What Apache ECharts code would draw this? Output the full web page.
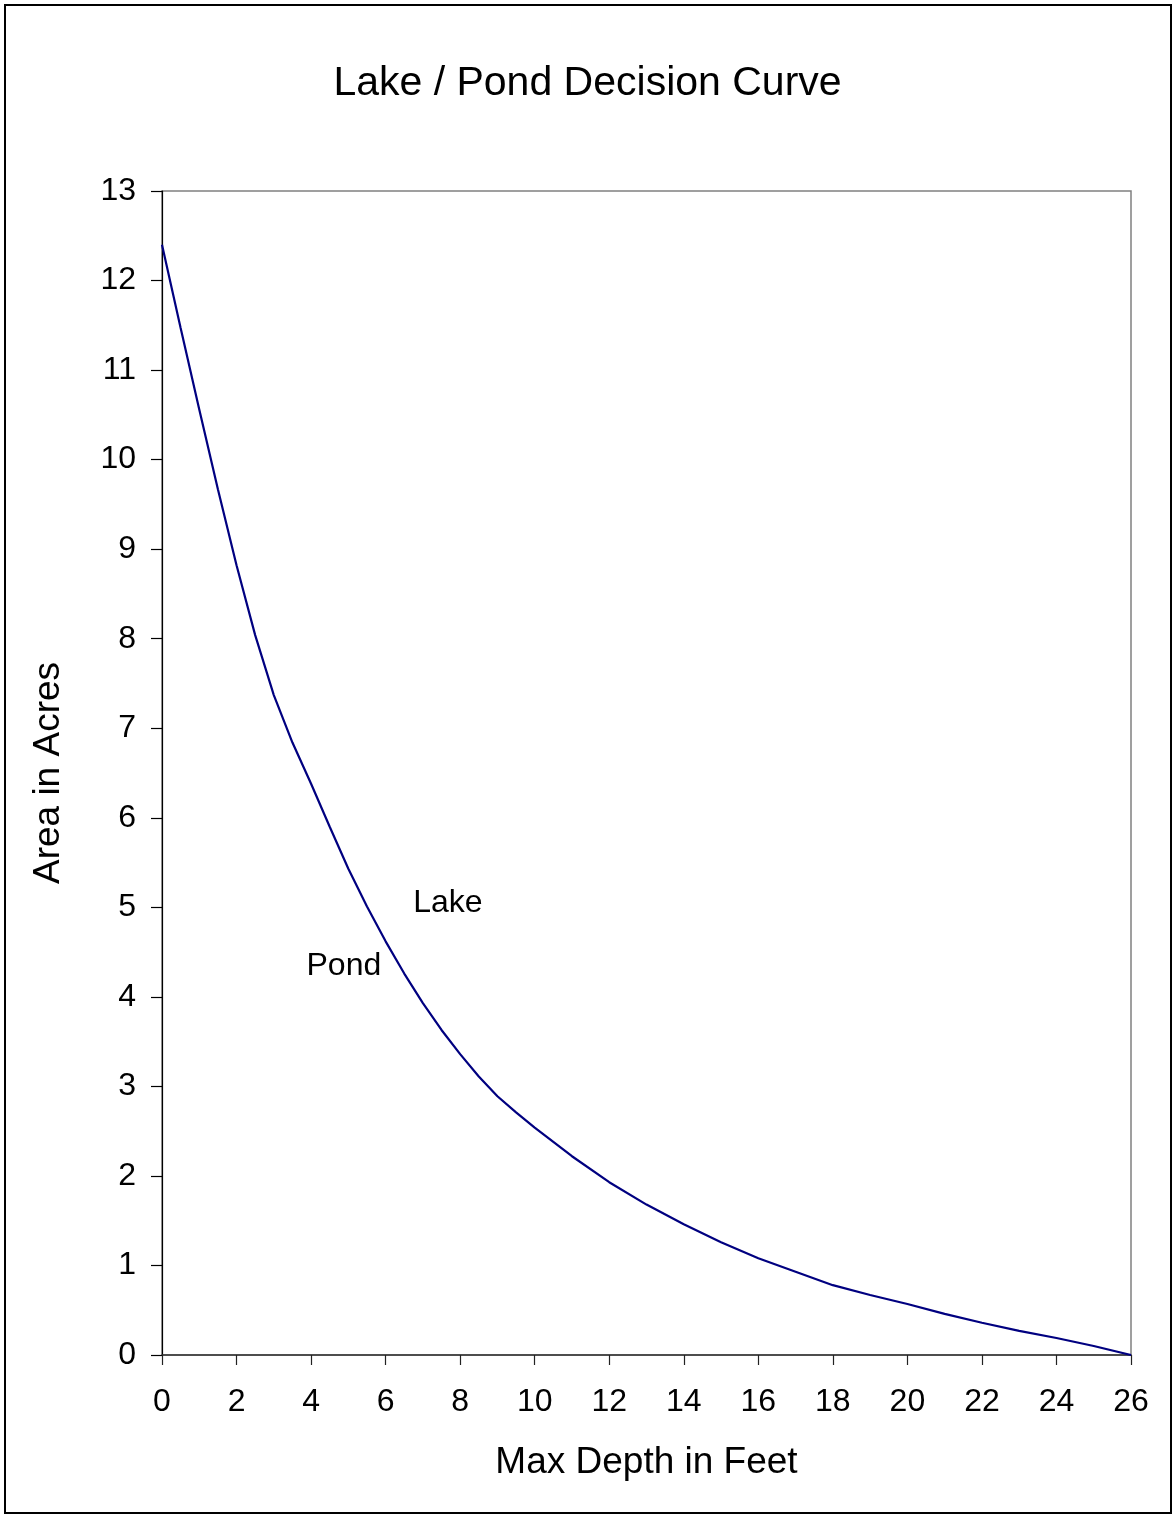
<!DOCTYPE html>
<html>
<head>
<meta charset="utf-8">
<script src="https://cdn.jsdelivr.net/npm/echarts@6/dist/echarts.min.js"></script>
<style>
html,body{margin:0;padding:0;background:#fff;}
#chart{width:1175px;height:1517px;}
</style>
</head>
<body>
<div id="chart"></div>
<script>
const depthFeet = [0,0.5,1,1.5,2,2.5,3,3.5,4,4.5,5,5.5,6,6.5,7,7.5,8,8.5,9,9.5,10,11,12,13,14,15,16,17,18,19,20,21,22,23,24,25,26];
const areaAcres = [12.4,11.47,10.56,9.67,8.82,8.04,7.37,6.84,6.38,5.9,5.43,5.01,4.62,4.26,3.93,3.63,3.36,3.11,2.89,2.71,2.54,2.22,1.93,1.68,1.46,1.26,1.08,0.93,0.78,0.67,0.57,0.46,0.36,0.27,0.19,0.10,0];
const regionLabels = ['Lake','Pond'];
const regionLabelX = [7.67, 4.88];
const regionLabelY = [5.05, 4.34];

const FONT = '"Liberation Sans", Arial, sans-serif';
const chart = echarts.init(document.getElementById('chart'), null, {renderer:'canvas'});
chart.setOption({
  animation:false,
  backgroundColor:'#fff',
  title:{
    text:'Lake / Pond Decision Curve',
    left:'center', top:58,
    textStyle:{fontFamily:FONT,fontSize:41,fontWeight:'normal',color:'#000'}
  },
  graphic:[{
    type:'rect', silent:true,
    shape:{x:5,y:5,width:1166,height:1508},
    style:{fill:'none',stroke:'#000',lineWidth:2}
  }],
  grid:{left:162,top:191,right:44,bottom:162,show:true,borderColor:'#808080',borderWidth:1.5,backgroundColor:'#fff'},
  xAxis:{
    type:'value', min:0, max:26, interval:2,
    name:'Max Depth in Feet', nameLocation:'middle', nameGap:89,
    nameTextStyle:{fontFamily:FONT,fontSize:37,color:'#000'},
    axisLine:{show:true,lineStyle:{color:'#333',width:1.5}},
    axisTick:{show:true,length:10,lineStyle:{color:'#222',width:1.2}},
    axisLabel:{margin:31,fontFamily:FONT,fontSize:32,color:'#000'},
    splitLine:{show:false}
  },
  yAxis:{
    type:'value', min:0, max:13, interval:1,
    name:'Area in Acres', nameLocation:'middle', nameGap:95, nameRotate:90,
    nameTextStyle:{fontFamily:FONT,fontSize:37,color:'#000'},
    axisLine:{show:true,lineStyle:{color:'#000',width:1.2}},
    axisTick:{show:true,length:11,lineStyle:{color:'#000',width:1.2}},
    axisLabel:{margin:26,fontFamily:FONT,fontSize:32,color:'#000'},
    splitLine:{show:false}
  },
  series:[{
    type:'line',
    data:depthFeet.map((d,i)=>[d,areaAcres[i]]),
    showSymbol:false, smooth:false,
    lineStyle:{color:'#000080',width:2.2},
    z:3
  },{
    type:'scatter',
    data:regionLabels.map((n,i)=>({name:n,value:[regionLabelX[i],regionLabelY[i]]})),
    symbolSize:0,
    itemStyle:{opacity:1},
    label:{show:true,position:'inside',formatter:'{b}',fontFamily:FONT,fontSize:32,color:'#000',opacity:1,textBorderWidth:0},
    silent:true
  }]
});
</script>
</body>
</html>
